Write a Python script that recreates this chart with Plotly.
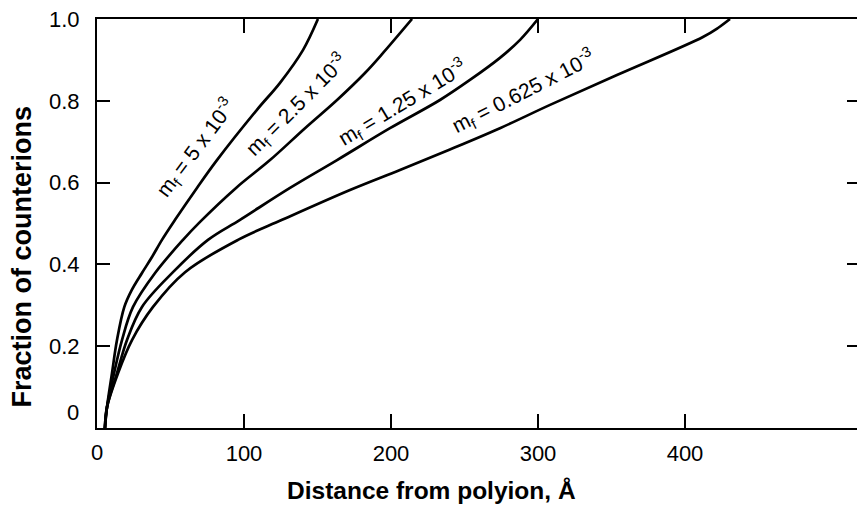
import plotly.graph_objects as go

# Curve data: distance from polyion (Å) vs fraction of counterions
x_5 = [5.4, 6.8, 10.2, 13.6, 18.6, 23.6, 30.6, 37.4, 44.2, 53.1, 68.0, 81.6, 108.8, 124.5, 140.1, 150.3]
y_5 = [0.0, 0.051, 0.134, 0.215, 0.296, 0.337, 0.379, 0.418, 0.460, 0.509, 0.587, 0.655, 0.778, 0.844, 0.924, 1.0]

x_25 = [5.4, 6.8, 11.6, 17.0, 24.5, 39.5, 58.5, 70.1, 94.6, 117.7, 141.5, 163.3, 182.3, 194.6, 214.3]
y_25 = [0.0, 0.051, 0.134, 0.215, 0.296, 0.379, 0.460, 0.504, 0.587, 0.655, 0.733, 0.802, 0.868, 0.917, 1.0]

x_125 = [5.4, 6.8, 13.6, 20.4, 30.6, 51.7, 75.5, 97.3, 131.3, 163.3, 199.3, 233.3, 253.7, 274.1, 287.8, 300.0]
y_125 = [0.0, 0.051, 0.134, 0.215, 0.296, 0.381, 0.460, 0.509, 0.587, 0.655, 0.733, 0.802, 0.851, 0.905, 0.949, 1.0]

x_0625 = [5.4, 6.8, 14.3, 23.8, 38.1, 59.9, 95.9, 125.9, 172.1, 206.1, 240.1, 274.1, 308.2, 353.7, 412.2, 422.4, 430.6]
y_0625 = [0.0, 0.051, 0.134, 0.215, 0.296, 0.381, 0.460, 0.509, 0.582, 0.631, 0.681, 0.733, 0.790, 0.863, 0.956, 0.978, 1.0]

series_labels = [
    "m<sub>f</sub> = 5 x 10<sup>-3</sup>",
    "m<sub>f</sub> = 2.5 x 10<sup>-3</sup>",
    "m<sub>f</sub> = 1.25 x 10<sup>-3</sup>",
    "m<sub>f</sub> = 0.625 x 10<sup>-3</sup>",
]
# label anchor points (data coords) and text angles
label_x = [67.5, 136.0, 208.0, 290.0]
label_y = [0.685, 0.790, 0.795, 0.822]
label_angle = [-53, -45, -31, -27]

x_ticks = [100, 200, 300, 400]
x_ticktext = ["100", "200", "300", "400"]
y_ticks = [0.2, 0.4, 0.6, 0.8, 1.0]
y_ticktext = ["0.2", "0.4", "0.6", "0.8", "1.0"]
y_right_ticks = [0.2, 0.4, 0.6, 0.8]

FONT = "Liberation Sans, Arial, Helvetica, sans-serif"

fig = go.Figure()
for xs, ys in [(x_5, y_5), (x_25, y_25), (x_125, y_125), (x_0625, y_0625)]:
    fig.add_trace(go.Scatter(x=xs, y=ys, mode="lines",
                             line=dict(color="black", width=2.7, shape="spline", smoothing=1.0),
                             showlegend=False, hoverinfo="skip"))

annotations = []
for t, lx, ly, ang in zip(series_labels, label_x, label_y, label_angle):
    annotations.append(dict(x=lx, y=ly, xref="x", yref="y", text=t, showarrow=False,
                            textangle=ang, font=dict(family=FONT, size=21, color="black"),
                            xanchor="center", yanchor="middle"))
annotations.append(dict(x=-0.098, y=0.418, xref="paper", yref="paper",
                        text="<b>Fraction of counterions</b>", showarrow=False, textangle=-90,
                        font=dict(family=FONT, size=27, color="black"),
                        xanchor="center", yanchor="middle"))
annotations.append(dict(x=0.4395, y=-0.152, xref="paper", yref="paper",
                        text="<b>Distance from polyion, Å</b>", showarrow=False,
                        font=dict(family=FONT, size=24.5, color="black"),
                        xanchor="center", yanchor="middle"))
annotations.append(dict(x=-0.021, y=0.037, xref="paper", yref="y", text="0", showarrow=False,
                        font=dict(family=FONT, size=22, color="black"),
                        xanchor="right", yanchor="middle"))
annotations.append(dict(x=0, y=-0.061, xref="x", yref="paper", text="0", showarrow=False,
                        font=dict(family=FONT, size=22, color="black"),
                        xanchor="center", yanchor="middle"))

fig.update_layout(
    width=857, height=512,
    margin=dict(l=97, r=0, t=19, b=84),
    paper_bgcolor="white", plot_bgcolor="white",
    annotations=annotations,
    xaxis=dict(range=[0, 517], tickvals=x_ticks, ticktext=x_ticktext,
               ticks="inside", ticklen=14, tickwidth=2, tickcolor="black",
               showline=True, linecolor="black", linewidth=2, mirror="ticks",
               showgrid=False, zeroline=False, ticklabelstandoff=5,
               tickfont=dict(family=FONT, size=22, color="black")),
    yaxis=dict(range=[0, 1.0], tickvals=y_ticks, ticktext=y_ticktext,
               ticks="inside", ticklen=13, tickwidth=2, tickcolor="black",
               showline=True, linecolor="black", linewidth=2,
               showgrid=False, zeroline=False, ticklabelstandoff=11,
               tickfont=dict(family=FONT, size=22, color="black")),
    yaxis2=dict(range=[0, 1.0], overlaying="y", side="right", anchor="x",
                tickvals=y_right_ticks, ticks="inside", ticklen=10, tickwidth=2,
                tickcolor="black", showline=False, showticklabels=False,
                showgrid=False, zeroline=False),
)
fig.add_trace(go.Scatter(x=[None], y=[None], yaxis="y2", showlegend=False, hoverinfo="skip"))

fig.write_html("out.html")
